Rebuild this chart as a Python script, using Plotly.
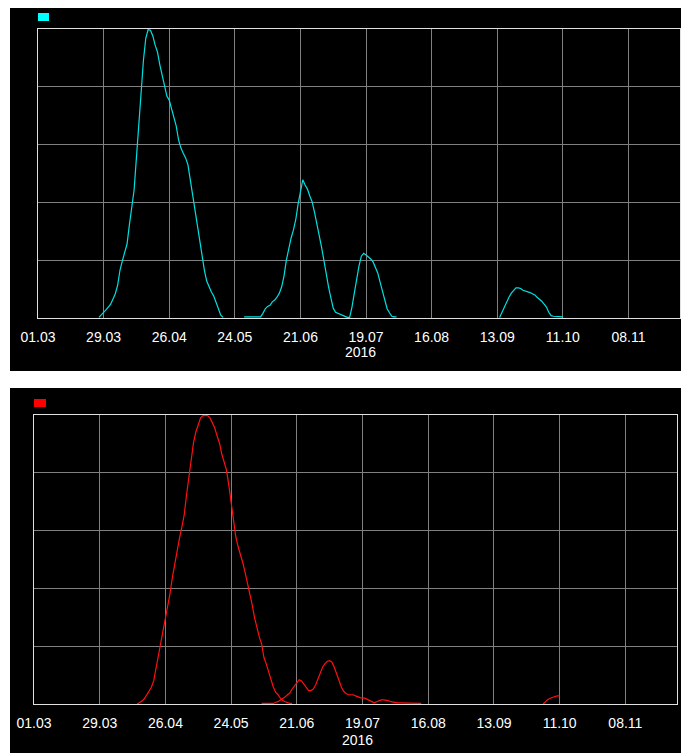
import pandas as pd
import plotly.graph_objects as go

# ---------------- data (daily values) ----------------
TICK_DATES = ["2016-03-01", "2016-03-29", "2016-04-26", "2016-05-24", "2016-06-21",
              "2016-07-19", "2016-08-16", "2016-09-13", "2016-10-11", "2016-11-08"]
TICK_TEXT = ["01.03", "29.03", "26.04", "24.05", "21.06",
             "19.07", "16.08", "13.09", "11.10", "08.11"]
YEAR_LABEL = "2016"
X_RANGE = ["2016-03-01", "2016-11-30"]

CYAN_A_START = "2016-03-27"
CYAN_A = [0.01, 0.05, 0.09, 0.14, 0.19, 0.24, 0.33, 0.42, 0.57, 0.83, 0.99, 1.14, 1.28,
          1.61, 1.89, 2.21, 2.77, 3.34, 3.86, 4.46, 4.84, 4.99, 4.98, 4.88, 4.72, 4.60,
          4.38, 4.19, 3.98, 3.84, 3.77, 3.63, 3.49, 3.32, 3.08, 2.94, 2.85, 2.77, 2.65,
          2.39, 2.11, 1.82, 1.56, 1.30, 1.07, 0.83, 0.64, 0.54, 0.45, 0.38, 0.26, 0.16,
          0.05, 0.01]
CYAN_B_START = "2016-05-28"
CYAN_B = [0.02, 0.02, 0.02, 0.02, 0.02, 0.02, 0.02, 0.02, 0.08, 0.16, 0.20, 0.22, 0.28,
          0.31, 0.36, 0.43, 0.54, 0.73, 1.00, 1.21, 1.38, 1.52, 1.70, 1.97, 2.21, 2.39,
          2.30, 2.23, 2.11, 2.01, 1.83, 1.64, 1.45, 1.23, 1.00, 0.74, 0.54, 0.35, 0.17,
          0.10, 0.08, 0.06, 0.04, 0.02, 0.01, 0.01, 0.19, 0.43, 0.69, 0.90, 1.07, 1.12,
          1.09, 1.06, 1.02, 0.97, 0.88, 0.78, 0.62, 0.45, 0.28, 0.16, 0.09, 0.03, 0.02,
          0.02]
CYAN_C_START = "2016-09-14"
CYAN_C = [0.01, 0.10, 0.21, 0.29, 0.36, 0.43, 0.48, 0.52, 0.52, 0.51, 0.48, 0.47, 0.45,
          0.44, 0.42, 0.40, 0.36, 0.33, 0.29, 0.24, 0.19, 0.10, 0.04, 0.03, 0.03, 0.03,
          0.02, 0.02]

RED_MAIN_START = "2016-04-14"
RED_MAIN = [0.00, 0.02, 0.05, 0.09, 0.15, 0.22, 0.29, 0.40, 0.61, 0.85, 1.06, 1.25, 1.47,
            1.70, 1.92, 2.20, 2.44, 2.66, 2.87, 3.06, 3.27, 3.62, 3.94, 4.26, 4.53, 4.71,
            4.84, 4.95, 4.99, 4.99, 4.99, 4.95, 4.86, 4.78, 4.64, 4.52, 4.33, 4.19, 4.05,
            3.79, 3.49, 3.20, 2.89, 2.72, 2.60, 2.44, 2.27, 2.09, 1.94, 1.71, 1.49, 1.30,
            1.16, 1.04, 0.80, 0.69, 0.54, 0.40, 0.29, 0.20, 0.16, 0.10, 0.06, 0.04, 0.02,
            0.01, 0.01]
RED_LATE_START = "2016-06-06"
RED_LATE = [0.01, 0.01, 0.01, 0.01, 0.01, 0.01, 0.03, 0.04, 0.07, 0.09, 0.12, 0.16, 0.19,
            0.26, 0.32, 0.38, 0.42, 0.40, 0.34, 0.27, 0.23, 0.23, 0.26, 0.33, 0.44, 0.55,
            0.64, 0.70, 0.74, 0.75, 0.72, 0.63, 0.52, 0.40, 0.29, 0.22, 0.18, 0.16, 0.16,
            0.16, 0.14, 0.12, 0.11, 0.10, 0.10, 0.08, 0.06, 0.03, 0.02, 0.04, 0.06, 0.07,
            0.07, 0.07, 0.06, 0.04, 0.03, 0.03, 0.02, 0.02, 0.02, 0.01, 0.01, 0.01, 0.01,
            0.01, 0.01, 0.01, 0.01]
RED_TAIL_START = "2016-10-04"
RED_TAIL = [0.00, 0.04, 0.08, 0.10, 0.12, 0.13, 0.14, 0.14]

CYAN = "#00e0e0"
CYAN_KEY = "#00ffff"
RED = "#ff1010"
RED_KEY = "#ff0000"
GRID = "#808080"
BORDER = "#e0e0e0"

# the page body keeps an 8px margin, so the figure is 8px smaller and shifted
PAGE_OFF = 8
W, H = 689 - PAGE_OFF, 753 - PAGE_OFF


def segment(start, values):
    return list(pd.date_range(start, periods=len(values), freq="D")), list(values)


def joined(*segs):
    xs, ys = [], []
    for i, (start, vals) in enumerate(segs):
        sx, sy = segment(start, vals)
        if i:
            xs.append(None)
            ys.append(None)
        xs += sx
        ys += sy
    return xs, ys


fig = go.Figure()

cx, cy = joined((CYAN_A_START, CYAN_A), (CYAN_B_START, CYAN_B), (CYAN_C_START, CYAN_C))
fig.add_trace(go.Scatter(x=cx, y=cy, mode="lines", line=dict(color=CYAN, width=1.2),
                         xaxis="x", yaxis="y", showlegend=False, connectgaps=False))

rx, ry = segment(RED_MAIN_START, RED_MAIN)
fig.add_trace(go.Scatter(x=rx, y=ry, mode="lines", line=dict(color=RED, width=1.2),
                         xaxis="x2", yaxis="y2", showlegend=False))
lx, ly = joined((RED_LATE_START, RED_LATE), (RED_TAIL_START, RED_TAIL))
fig.add_trace(go.Scatter(x=lx, y=ly, mode="lines", line=dict(color=RED, width=1.2),
                         xaxis="x2", yaxis="y2", showlegend=False, connectgaps=False))


def px_x(p):
    return (p - PAGE_OFF) / W


def px_y(p):
    return 1 - (p - PAGE_OFF) / H


tick_font = dict(family="Liberation Sans, Arial, sans-serif", size=14, color="white")

xcommon = dict(type="date", range=X_RANGE, tickmode="array", tickvals=TICK_DATES,
               ticktext=TICK_TEXT, showgrid=True, gridcolor=GRID, gridwidth=1,
               showline=True, linecolor=BORDER, linewidth=1, mirror=True,
               ticks="outside", ticklen=6, tickcolor="black", tickfont=tick_font,
               zeroline=False, layer="below traces", fixedrange=True, automargin=False)
ycommon = dict(range=[0, 5], dtick=1, tick0=0, showgrid=True, gridcolor=GRID, gridwidth=1,
               showline=True, linecolor=BORDER, linewidth=1, mirror=True,
               showticklabels=False, ticks="", zeroline=False, layer="below traces",
               fixedrange=True, automargin=False)

fig.update_layout(
    width=W, height=H,
    margin=dict(l=0, r=0, t=0, b=0, autoexpand=False),
    paper_bgcolor="white",
    plot_bgcolor="black",
    showlegend=False,
    xaxis=dict(xcommon, domain=[px_x(38), px_x(680)], anchor="y"),
    yaxis=dict(ycommon, domain=[px_y(318), px_y(29)], anchor="x"),
    xaxis2=dict(xcommon, domain=[px_x(34), px_x(677)], anchor="y2"),
    yaxis2=dict(ycommon, domain=[px_y(704), px_y(415)], anchor="x2"),
    shapes=[
        # panel backgrounds
        dict(type="rect", xref="paper", yref="paper", x0=px_x(10), x1=1,
             y0=px_y(371), y1=1, fillcolor="black", line=dict(width=0), layer="below"),
        dict(type="rect", xref="paper", yref="paper", x0=px_x(10), x1=1,
             y0=0, y1=px_y(388), fillcolor="black", line=dict(width=0), layer="below"),
        # series keys
        dict(type="rect", xref="paper", yref="paper", x0=px_x(38), x1=px_x(49),
             y0=px_y(21), y1=px_y(13), fillcolor=CYAN_KEY, line=dict(width=0), layer="above"),
        dict(type="rect", xref="paper", yref="paper", x0=px_x(34), x1=px_x(46),
             y0=px_y(407), y1=px_y(399), fillcolor=RED_KEY, line=dict(width=0), layer="above"),
    ],
    annotations=[
        dict(text=YEAR_LABEL, xref="paper", yref="paper", x=px_x(360), y=px_y(352),
             showarrow=False, font=tick_font, xanchor="center", yanchor="middle"),
        dict(text=YEAR_LABEL, xref="paper", yref="paper", x=px_x(357), y=px_y(740),
             showarrow=False, font=tick_font, xanchor="center", yanchor="middle"),
    ],
)

fig.write_html("out.html", config={"displayModeBar": False})
